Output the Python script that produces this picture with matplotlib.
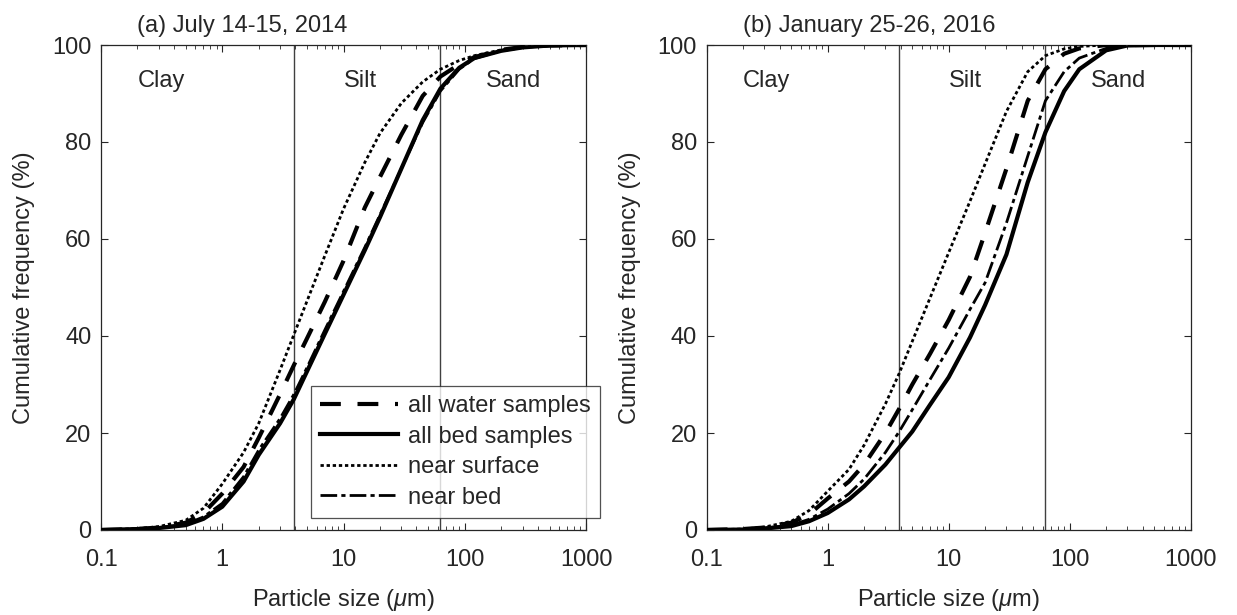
import numpy as np
import matplotlib
matplotlib.use('Agg')
import matplotlib.pyplot as plt

plt.rcParams['font.family'] = ['Liberation Sans', 'DejaVu Sans']
plt.rcParams['mathtext.fontset'] = 'custom'
plt.rcParams['mathtext.rm'] = 'Liberation Sans'
plt.rcParams['mathtext.it'] = 'Liberation Sans:italic'

# particle sizes (um) at which the cumulative curves were read
sizes = [0.1, 0.2, 0.3, 0.5, 0.7, 1, 1.5, 2, 3, 3.9, 5, 7, 10, 15, 20, 30, 45, 63,
         90, 120, 200, 300, 500, 1000]

# (a) July 14-15, 2014
a_water = [0, 0.2, 0.5, 1.5, 3.5, 7.5, 13, 19, 28, 34, 39.5, 47, 55.5, 66.5, 72.8, 81.5, 89.5, 93.5,
           96, 97.5, 99, 99.6, 99.9, 100]
a_bed = [0, 0.2, 0.4, 1, 2.3, 4.8, 10, 15.5, 22, 27, 32.7, 40.4, 48.5, 57.7, 64.5, 74.5, 84.5, 91,
         95.3, 97.3, 98.8, 99.5, 99.9, 100]
a_surface = [0, 0.3, 0.7, 2, 4.5, 9.5, 16, 22, 33, 40.3, 47.2, 56.5, 66.2, 75.8, 81.8, 88, 92.4, 95,
             96.8, 97.8, 99, 99.6, 99.9, 100]
a_nearbed = [0, 0.2, 0.5, 1.2, 2.7, 5.5, 11, 16.5, 23, 28, 33.5, 41.2, 49.2, 58.3, 65, 74.5, 84, 90.5,
             95, 97.2, 98.8, 99.5, 99.9, 100]

# (b) January 25-26, 2016
b_water = [0, 0.2, 0.5, 1.5, 3.2, 6.5, 10, 13.5, 20, 25, 30, 36.3, 43.3, 52.2, 61.3, 74.5, 88.5, 95,
           98.2, 99.3, 100, 100, 100, 100]
b_bed = [0, 0.1, 0.3, 0.8, 1.8, 3.5, 6.3, 9, 13.5, 17, 20.3, 25.8, 31.5, 39.7, 46.4, 56.8, 71.7, 82,
         90.5, 95, 98.9, 99.9, 100, 100]
b_surface = [0, 0.2, 0.6, 1.8, 4, 8, 12.5, 17.5, 26, 32.3, 38.9, 47.8, 57.2, 67.8, 75.5, 86.3, 94.5, 97.8,
             99.2, 99.7, 100, 100, 100, 100]
b_nearbed = [0, 0.1, 0.4, 1, 2.2, 4.3, 7.5, 10.5, 16, 20.3, 24.8, 31, 37.5, 45.5, 51, 63.3, 77.1, 88.5,
             94.5, 97.3, 99.3, 99.9, 100, 100]

titles = ['(a) July 14-15, 2014', '(b) January 25-26, 2016']
labels = ['all water samples', 'all bed samples', 'near surface', 'near bed']
zones = ['Clay', 'Silt', 'Sand']
zone_x = [0.2, 10, 150]
bounds = [3.9, 63]
txt = '#262626'
fs = 17

fig = plt.figure(figsize=(12.37, 6.15), dpi=100)
ax1 = fig.add_axes([101 / 1237, 85 / 615, 485 / 1237, 485 / 615])
ax2 = fig.add_axes([706.7 / 1237, 85 / 615, 484 / 1237, 485 / 615])

data = [(a_water, a_bed, a_surface, a_nearbed), (b_water, b_bed, b_surface, b_nearbed)]

for ax, series, title in zip([ax1, ax2], data, titles):
    water, bed, surface, nearbed = series
    for b in bounds:
        ax.axvline(b, color='#404040', lw=1.0, zorder=1)
    ax.plot(sizes, water, color='k', lw=3.0, dashes=(5, 4), label=labels[0], zorder=3)
    ax.plot(sizes, bed, color='k', lw=3.0, ls='-', label=labels[1], zorder=2)
    ax.plot(sizes, surface, color='k', lw=2.0, dashes=(1.2, 1.0), label=labels[2], zorder=3)
    ax.plot(sizes, nearbed, color='k', lw=2.0, dashes=(6, 1.5, 1.5, 1.5), label=labels[3], zorder=3)

    ax.set_xscale('log')
    ax.set_xlim(0.1, 1000)
    ax.set_ylim(0, 100)
    ax.set_xticks([0.1, 1, 10, 100, 1000])
    ax.set_xticklabels(['0.1', '1', '10', '100', '1000'])
    ax.set_yticks([0, 20, 40, 60, 80, 100])
    ax.tick_params(which='both', direction='in', top=True, right=True, colors=txt,
                   labelsize=fs, labelcolor=txt)
    ax.tick_params(which='major', length=5, width=0.8)
    ax.tick_params(which='minor', length=3, width=0.6)
    ax.tick_params(axis='x', pad=14)
    ax.tick_params(axis='y', pad=7)
    for sp in ax.spines.values():
        sp.set_color(txt)
        sp.set_linewidth(0.9)

    for z, zx in zip(zones, zone_x):
        ax.text(zx, 92.5, z, fontsize=fs, color=txt, va='center', ha='left')

    ax.text(0.075, 1.027, title, transform=ax.transAxes, fontsize=fs, color=txt,
            va='baseline', ha='left')
    ax.set_xlabel(r'Particle size ($\mu$m)', fontsize=fs, color=txt, labelpad=11)
    ax.set_ylabel('Cumulative frequency (%)', fontsize=fs, color=txt, labelpad=12)

leg = ax1.legend(loc='lower right', bbox_to_anchor=(600 / 1237, 97 / 615),
                 bbox_transform=fig.transFigure, fontsize=fs, frameon=True,
                 fancybox=False, borderaxespad=0, handlelength=3.3, handletextpad=0.4,
                 labelspacing=0.36, borderpad=0.4)
leg.get_frame().set_edgecolor(txt)
leg.get_frame().set_linewidth(0.9)
for t in leg.get_texts():
    t.set_color(txt)

fig.savefig('out.png', dpi=100)
